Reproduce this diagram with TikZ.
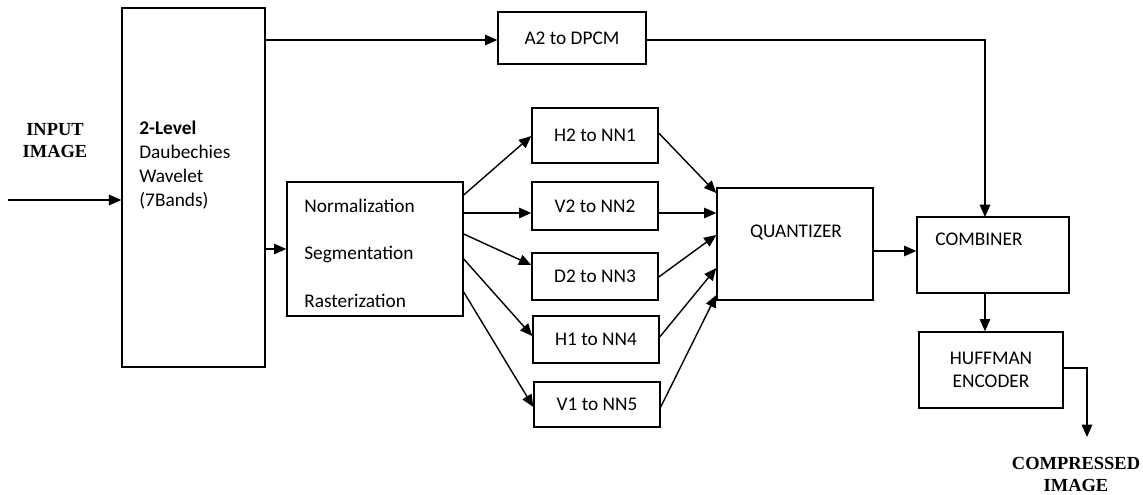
\documentclass[tikz,border=0pt]{standalone}
\usepackage{fontspec}
\newfontfamily\carl{Carlito}
\newfontfamily\tms{Liberation Serif}
\usetikzlibrary{arrows.meta}
\tikzset{
  blk/.style 2 args={draw, line width=0.8pt, inner sep=0pt, minimum width=#1*0.02cm, minimum height=#2*0.02cm},
  arr/.style={-{Triangle[length=7pt,width=6pt]}, line width=0.8pt},
  txt/.style={font={\carl\fontsize{11}{13}\selectfont}, inner sep=0pt},
  lbl/.style={font={\tms\bfseries\fontsize{10.5}{12.5}\selectfont}, align=center, inner sep=0pt}
}
\begin{document}
\begin{tikzpicture}[x=0.02cm, y=-0.02cm]
		\useasboundingbox (0,0) rectangle (1143,494);
		% blocks
		\node[blk={143}{359}] (wav) at (193.5,187.5) {};
		\node[blk={176}{134}] (norm) at (375,249) {};
		\node[blk={148}{52}, txt] (a2) at (572,38) {A2 to DPCM};
		\node[blk={126}{55}, txt] (h2) at (595,135.5) {H2 to NN1};
		\node[blk={126}{48}, txt] (v2) at (595,206) {V2 to NN2};
		\node[blk={126}{47}, txt] (d2) at (595,276.5) {D2 to NN3};
		\node[blk={126}{47}, txt] (h1) at (596,339.5) {H1 to NN4};
		\node[blk={126}{45}, txt] (v1) at (597,404.5) {V1 to NN5};
		\node[blk={156}{112}] (quant) at (795,244) {};
		\node[blk={152}{76}] (comb) at (993,255) {};
		\node[blk={144}{76}, txt, align=center] (huff) at (991,370) {HUFFMAN\\ENCODER};
		% texts inside the blocks
		\node[txt, align=left, anchor=north west, font={\carl\fontsize{11}{13.6}\selectfont}] (wavtxt) at (139,121) {\textbf{2-Level}\\Daubechies\\Wavelet\\(7Bands)};
		\node[txt, align=left, anchor=west, font={\carl\fontsize{11}{27}\selectfont}] (normtxt) at (304,253) {Normalization\\Segmentation\\Rasterization};
		\node[txt] (quanttxt) at (796,233) {QUANTIZER};
		\node[txt] (combtxt) at (979,239) {COMBINER};
		% outside labels
		\node[lbl] (input) at (55,141) {INPUT\\IMAGE};
		\node[lbl] (output) at (1076,474) {COMPRESSED\\IMAGE};
		\coordinate (in) at (8,200);
		\coordinate (out) at (1087,437);
		% connectors
		\draw[arr] (in) -- (in -| wav.west);
		\draw[arr] (wav.east |- norm.west) -- (norm.west);
		\draw[arr] (wav.east |- 0,40) -- (a2.west |- 0,40);
		\draw[arr] (a2.east |- 0,40) -| (985,217);
		\draw[arr] (norm.east |- 0,195) -- (h2.west |- 0,136);
		\draw[arr] (norm.east |- 0,213) -- (v2.west |- 0,213);
		\draw[arr] (norm.east |- 0,234) -- (d2.west |- 0,265);
		\draw[arr] (norm.east |- 0,259) -- (h1.west |- 0,336);
		\draw[arr] (norm.east |- 0,292) -- (v1.west |- 0,407);
		\draw[arr] (h2.east |- 0,133) -- (quant.west |- 0,193);
		\draw[arr] (v2.east |- 0,213) -- (quant.west |- 0,213);
		\draw[arr] (d2.east |- 0,277) -- (quant.west |- 0,235);
		\draw[arr] (h1.east |- 0,337) -- (quant.west |- 0,268);
		\draw[arr] (v1.east |- 0,407) -- (quant.west |- 0,295);
		\draw[arr] (quant.east |- 0,251) -- (comb.west |- 0,251);
		\draw[arr] (comb.south -| 985,0) -- (huff.north -| 985,0);
		\draw[arr] (huff.east |- 0,368) -| (out);
		\end{tikzpicture}
\end{document}
